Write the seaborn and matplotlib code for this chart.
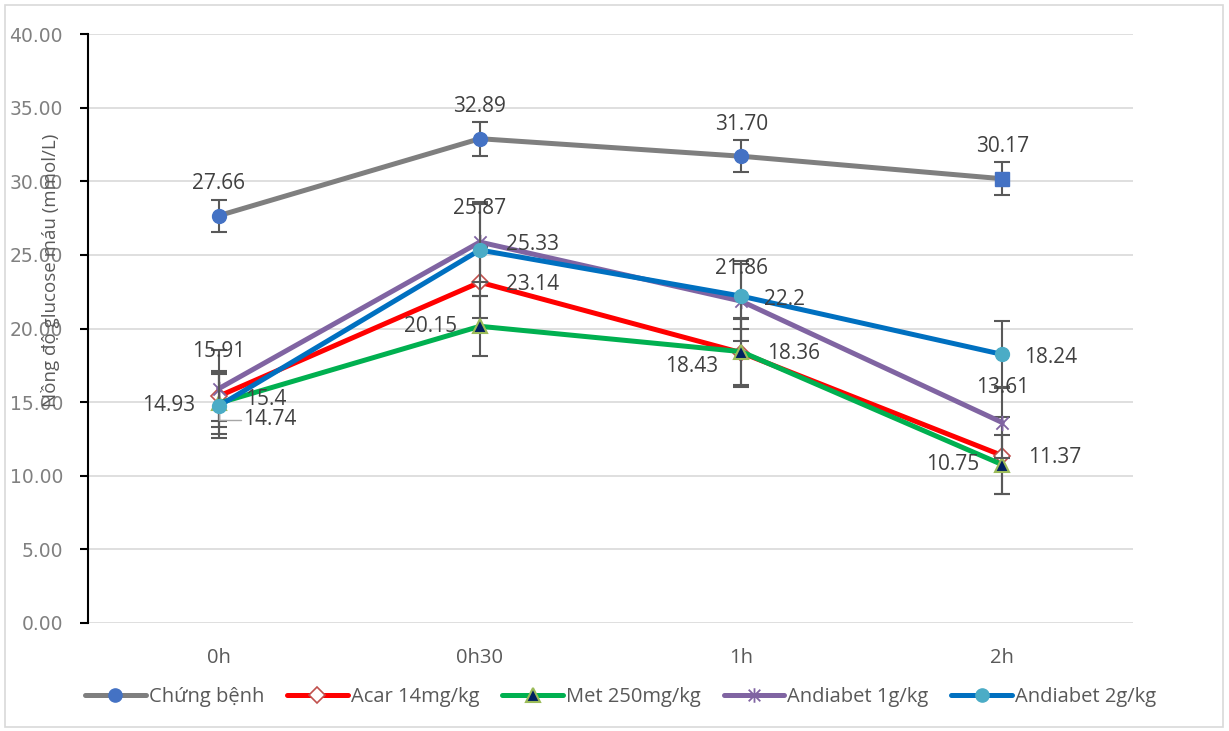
import numpy as np
import pandas as pd
import matplotlib
matplotlib.use("Agg")
import matplotlib.pyplot as plt
from matplotlib.path import Path
from matplotlib.patches import Rectangle
from matplotlib.lines import Line2D
import seaborn as sns

# ---- data -------------------------------------------------------------
times = ["0h", "0h30", "1h", "2h"]
groups = ["Chứng bệnh", "Acar 14mg/kg", "Met 250mg/kg", "Andiabet 1g/kg", "Andiabet 2g/kg"]

chung_benh = [27.66, 32.89, 31.70, 30.17]
acar = [15.4, 23.14, 18.36, 11.37]
met = [14.93, 20.15, 18.43, 10.75]
andiabet_1g = [15.91, 25.87, 21.86, 13.61]
andiabet_2g = [14.74, 25.33, 22.2, 18.24]

err_chung_benh = [1.1, 1.15, 1.1, 1.12]
err_acar = [1.7, 2.4, 2.3, 2.6]
err_met = [2.1, 2.05, 2.3, 2.0]
err_andiabet_1g = [2.6, 2.7, 2.7, 2.4]
err_andiabet_2g = [2.2, 3.1, 2.2, 2.3]

value_labels = {
    "Chứng bệnh": ["27.66", "32.89", "31.70", "30.17"],
    "Acar 14mg/kg": ["15.4", "23.14", "18.36", "11.37"],
    "Met 250mg/kg": ["14.93", "20.15", "18.43", "10.75"],
    "Andiabet 1g/kg": ["15.91", "25.87", "21.86", "13.61"],
    "Andiabet 2g/kg": ["14.74", "25.33", "22.2", "18.24"],
}

y_label = "Nồng độ glucose máu (mmol/L)"

series = {
    "Chứng bệnh": (chung_benh, err_chung_benh),
    "Acar 14mg/kg": (acar, err_acar),
    "Met 250mg/kg": (met, err_met),
    "Andiabet 1g/kg": (andiabet_1g, err_andiabet_1g),
    "Andiabet 2g/kg": (andiabet_2g, err_andiabet_2g),
}

# ---- styles -----------------------------------------------------------
# asterisk-like marker: an x crossed with a vertical stroke
star_path = Path(
    [(-1, -1), (1, 1), (-1, 1), (1, -1), (0, -1.25), (0, 1.25)],
    [Path.MOVETO, Path.LINETO, Path.MOVETO, Path.LINETO, Path.MOVETO, Path.LINETO],
)

styles = {
    "Chứng bệnh": dict(color="#7F7F7F", marker="o", mfc="#4472C4", mec="#4472C4", ms=10, mew=1),
    "Acar 14mg/kg": dict(color="#FF0000", marker="D", mfc="white", mec="#C0504D", ms=8.5, mew=1.2),
    "Met 250mg/kg": dict(color="#00B050", marker="^", mfc="#002060", mec="#9BBB59", ms=10, mew=1.5),
    "Andiabet 1g/kg": dict(color="#8064A2", marker=star_path, mfc="none", mec="#8064A2", ms=11, mew=1.3),
    "Andiabet 2g/kg": dict(color="#0070C0", marker="o", mfc="#4BACC6", mec="#4BACC6", ms=10, mew=1),
}

# label placement (pixel offsets from the point, horizontal alignment)
label_pos = {
    "Chứng bệnh": [((0, 32), "center")] * 4,
    "Acar 14mg/kg": [((26, -3), "left"), ((26, -2), "left"), ((26, -1), "left"), ((26, -2), "left")],
    "Met 250mg/kg": [((-23, -2), "right"), ((-23, 0), "right"), ((-23, -15), "right"), ((-23, 0), "right")],
    "Andiabet 1g/kg": [((0, 37), "center"), ((0, 34), "center"), ((0, 33), "center"), ((0, 35), "center")],
    "Andiabet 2g/kg": [((24, -14), "left"), ((26, 6), "left"), ((23, -3), "left"), ((22, -3), "left")],
}

sns.set_theme(style="white")
plt.rcParams["font.family"] = ["Open Sans", "DejaVu Sans"]

text_grey = "#595959"
tick_grey = "#808080"
err_grey = "#595959"
fs = 14.5

fig = plt.figure(figsize=(12.29, 7.31), dpi=100)
ax = fig.add_axes([88 / 1229, 1 - 623 / 731, (1133 - 88) / 1229, (623 - 34) / 731])

x = np.arange(len(times))

for i, g in enumerate(groups):
    vals, errs = series[g]
    st = styles[g]
    df = pd.DataFrame({"time": times, "value": vals})
    last_square = g == "Chứng bệnh"
    sns.lineplot(
        data=df, x="time", y="value", ax=ax, sort=False,
        color=st["color"], linewidth=3.6, zorder=2 + i * 0.1,
        marker=st["marker"], markerfacecolor=st["mfc"], markeredgecolor=st["mec"],
        markersize=st["ms"], markeredgewidth=st["mew"],
        markevery=[0, 1, 2] if last_square else None,
    )
    ax.errorbar(x, vals, yerr=errs, fmt="none", ecolor=err_grey, elinewidth=1.5,
                capsize=6, capthick=1.5, zorder=1.9 + i * 0.1)
    if last_square:
        ax.plot(x[-1:], vals[-1:], linestyle="none", marker="s", markersize=10,
                markerfacecolor="#4472C4", markeredgecolor="#4472C4", zorder=2 + i * 0.1)
    for j, v in enumerate(vals):
        (dx, dy), ha = label_pos[g][j]
        ax.annotate(value_labels[g][j], (x[j], v), xytext=(dx, dy), textcoords="offset pixels",
                    ha=ha, va="center", fontsize=15, color="#404040", zorder=6)

# leader line for the label that sits away from its point
ax.annotate("", (x[0], andiabet_2g[0]), xytext=(22, -14), textcoords="offset pixels",
            arrowprops=dict(arrowstyle="-", color="#A6A6A6", lw=1, shrinkA=0, shrinkB=6,
                            connectionstyle="angle,angleA=0,angleB=90,rad=0"))

ax.set_xlim(-0.5, 3.5)
ax.set_ylim(0, 40)
ax.set_yticks(np.arange(0, 40.01, 5))
ax.set_yticklabels([f"{t:.2f}" for t in np.arange(0, 40.01, 5)], family="DejaVu Sans")
ax.set_xticks(x)
ax.set_xticklabels(times)
ax.set_xlabel("")
ax.set_ylabel(y_label, fontsize=13.5, color=text_grey)
ax.yaxis.set_label_coords(-0.027, 0.598)

ax.grid(axis="y", color="#D9D9D9", linewidth=1.2)
ax.set_axisbelow(True)
for s in ["top", "right", "bottom"]:
    ax.spines[s].set_visible(False)
ax.spines["left"].set_color("black")
ax.spines["left"].set_linewidth(1.5)
ax.tick_params(axis="y", direction="out", length=6, width=1.5, color="black",
               labelsize=13.5, labelcolor=tick_grey, pad=12, left=True)
ax.tick_params(axis="x", length=0, labelsize=fs, labelcolor=text_grey, pad=18)

# legend
handles = []
for g in groups:
    st = styles[g]
    handles.append(Line2D([0], [0], color=st["color"], linewidth=3.6, marker=st["marker"],
                          markerfacecolor=st["mfc"], markeredgecolor=st["mec"],
                          markersize=st["ms"] * 0.95, markeredgewidth=st["mew"]))
leg = fig.legend(handles, groups, loc="center", bbox_to_anchor=(0.505, 1 - 697 / 731), ncol=5,
                 frameon=False, fontsize=fs, handlelength=3.0, handletextpad=0.15,
                 columnspacing=1.15)
for t in leg.get_texts():
    t.set_color(text_grey)

# chart-area border
fig.patches.append(Rectangle((5 / 1229, 4 / 731), 1218 / 1229, 722 / 731, transform=fig.transFigure,
                             fill=False, edgecolor="#D9D9D9", linewidth=1.2))

fig.savefig("out.png", dpi=100)
